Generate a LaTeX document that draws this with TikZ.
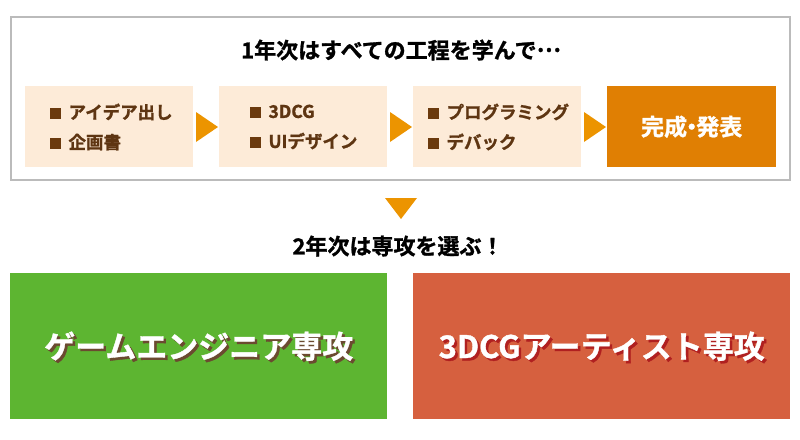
\documentclass[tikz,border=0pt]{standalone}
\usepackage{fontspec}
\setmainfont{Noto Sans CJK JP}[BoldFont={Noto Sans CJK JP Bold}]
\newfontfamily\heavy{Noto Sans CJK JP Bold}[FakeBold=1.2]
\definecolor{frame}{HTML}{BBBBBB}
\definecolor{light}{HTML}{FDEBD8}
\definecolor{done}{HTML}{E07F03}
\definecolor{tri}{HTML}{EC9400}
\definecolor{brown}{HTML}{5E3512}
\definecolor{bullet}{HTML}{6B3A0E}
\definecolor{green}{HTML}{5DB531}
\definecolor{red}{HTML}{D6603F}
\definecolor{gshadow}{HTML}{6B4A30}
\definecolor{rshadow}{HTML}{B02020}
\tikzset{
  x=1pt, y=-1pt,
  stepbox/.style={fill=light, draw=none, minimum width=168pt, minimum height=81pt, inner sep=0pt, anchor=north west},
  donebox/.style={fill=done, draw=none, minimum width=169pt, minimum height=81pt, inner sep=0pt, anchor=north west, text=white, font=\heavy\fontsize{23}{26}\selectfont},
  items/.style={align=left, text=brown, font=\heavy\fontsize{17.5}{30}\selectfont, anchor=west},
  head/.style={text=black, font=\heavy\fontsize{22}{24}\selectfont},
  bigbox/.style={draw=none, minimum width=377pt, minimum height=146pt, inner sep=0pt, anchor=north west},
  bigtext/.style={text=white, font=\heavy\fontsize{31}{34}\selectfont},
  tri/.style={fill=tri, draw=none},
}
\newcommand{\sq}{\textcolor{bullet}{\rule{11pt}{11pt}}\hspace{8pt}}
\begin{document}
\begin{tikzpicture}
\useasboundingbox (0,0) rectangle (800,439);
\draw[frame, line width=2pt] (11,17) rectangle (790,180);
\node[head] (t1) at (401,50) {1年次はすべての工程を学んで\raisebox{0.3em}{…}};
\node[stepbox] (b1) at (25,86) {};
\node[stepbox] (b2) at (219,86) {};
\node[stepbox] (b3) at (413,86) {};
\node[donebox] (b4) at (607,86) {完成\kern-0.3em・\kern-0.3em発表};
\node[items] (i1) at (46,127) {\sq アイデア出し\\\sq 企画書};
\node[items] (i2) at (246,127) {\sq 3DCG\\\sq UIデザイン};
\node[items] (i3) at (424,127) {\sq プログラミング\\\sq デバック};
\fill[tri] (196,112) -- (218,127) -- (196,142) -- cycle;
\fill[tri] (390,112) -- (412,127) -- (390,142) -- cycle;
\fill[tri] (584,112) -- (606,127) -- (584,142) -- cycle;
\coordinate (d) at (401,219);
\fill[tri] (385,198) -- (417,198) -- (d) -- cycle;
\node[head] (t2) at (398,246) {2年次は専攻を選ぶ！};
\node[bigbox, fill=green] (g) at (10,273) {};
\node[bigbox, fill=red] (r) at (413,273) {};
\node[bigtext, text=gshadow] at ([xshift=2.5pt,yshift=-2.5pt]g.center) {ゲームエンジニア専攻};
\node[bigtext] (gt) at (g.center) {ゲームエンジニア専攻};
\node[bigtext, text=rshadow] at ([xshift=2.5pt,yshift=-2.5pt]r.center) {3DCGアーティスト専攻};
\node[bigtext] (rt) at (r.center) {3DCGアーティスト専攻};
\end{tikzpicture}
\end{document}
